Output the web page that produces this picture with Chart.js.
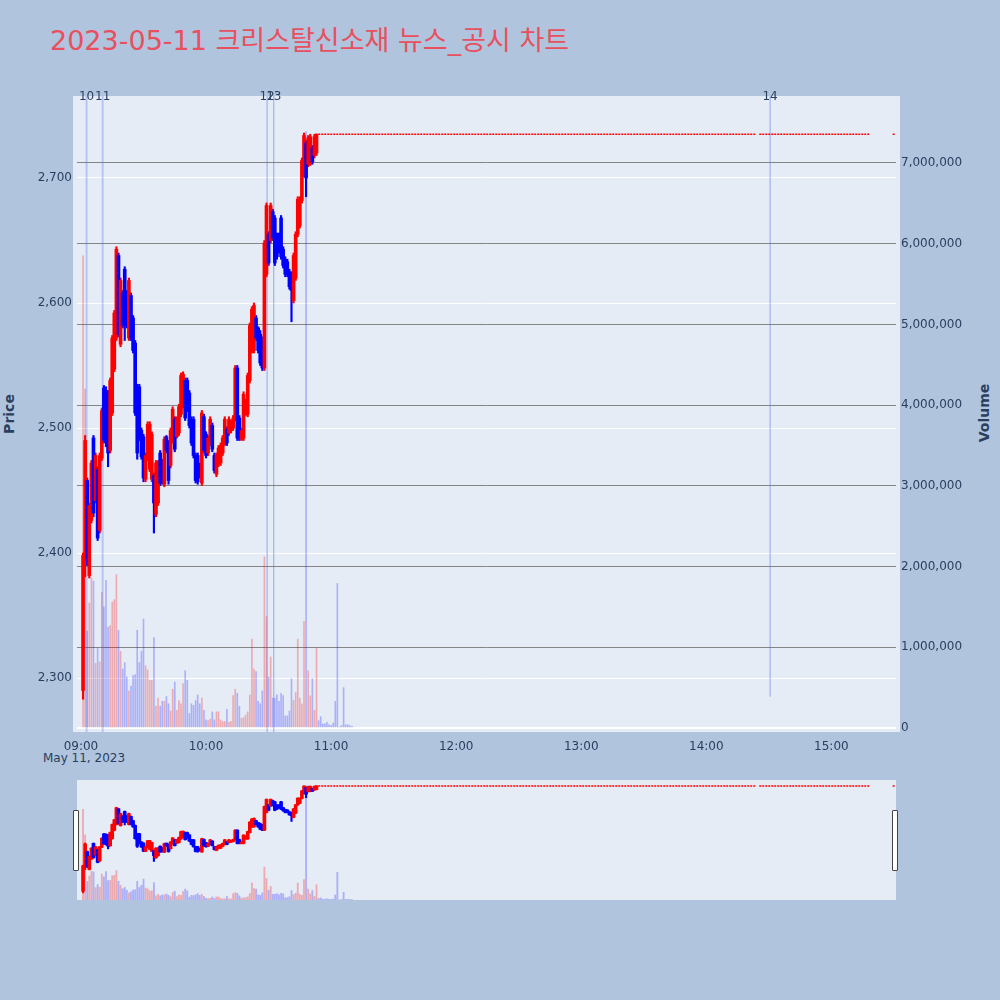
<!DOCTYPE html>
<html>
<head>
<meta charset="utf-8">
<script src="https://cdn.jsdelivr.net/npm/chart.js@4.4.0/dist/chart.umd.min.js"></script>
<style>
    body { margin: 0; width: 1000px; height: 1000px; background: #b0c4de; position: relative; overflow: hidden;
           font-family: 'DejaVu Sans', 'Noto Sans CJK KR', sans-serif; color: #2a3f5f; }
    canvas { position: absolute; left: 0; }
    #main { top: 0; }
    #slider { top: 780px; }
    #title { position: absolute; left: 50px; top: 19px; font-size: 27px; color: #e8505f; white-space: nowrap; }
    .axisTitle { position: absolute; font-size: 14px; font-weight: bold; white-space: nowrap; transform: translate(-50%, -50%) rotate(-90deg); }
    #dateLabel { position: absolute; left: 84px; top: 758px; font-size: 12px; transform: translate(-50%, -50%); white-space: nowrap; }
    .handle { position: absolute; top: 810px; width: 4px; height: 59px; background: #fff; border: 1px solid #444; border-radius: 1px; }
</style>
</head>
<body>
<div id="title">2023-05-11 크리스탈신소재 뉴스_공시 차트</div>
<div class="axisTitle" style="left:9px; top:414px;">Price</div>
<div class="axisTitle" style="left:984px; top:413px;">Volume</div>
<div id="dateLabel">May 11, 2023</div>
<canvas id="main" width="1000" height="780"></canvas>
<canvas id="slider" width="1000" height="120"></canvas>
<div class="handle" style="left:73px;"></div>
<div class="handle" style="left:892px;"></div>
<script>
// one-minute bars, the first one at 09:01
const firstBarTime = '09:01';
const opens = [
    2290, 2395, 2458, 2382, 2426, 2492, 2442, 2467, 2418, 2476,
    2532, 2530, 2528, 2482, 2512, 2547, 2572, 2638, 2567, 2608,
    2627, 2608, 2572, 2606, 2588, 2568, 2533, 2533, 2498, 2493,
    2459, 2476, 2467, 2459, 2462, 2431, 2440, 2480, 2470, 2455,
    2493, 2488, 2470, 2490, 2507, 2493, 2496, 2511, 2518, 2538,
    2538, 2528, 2507, 2507, 2478, 2478, 2470, 2456, 2509, 2495,
    2480, 2488, 2502, 2478, 2463, 2471, 2472, 2480, 2488, 2499,
    2496, 2498, 2500, 2508, 2548, 2508, 2491, 2492, 2511, 2511,
    2538, 2562, 2562, 2588, 2580, 2575, 2571, 2548, 2623, 2655,
    2650, 2673, 2668, 2654, 2654, 2668, 2643, 2635, 2633, 2625,
    2623, 2602, 2620, 2655, 2662, 2682, 2703, 2728, 2711, 2712,
    2724, 2718, 2720
];
const highs = [
    2400, 2494, 2460, 2440, 2474, 2494, 2480, 2469, 2480, 2516,
    2534, 2533, 2530, 2540, 2574, 2594, 2645, 2640, 2620, 2610,
    2629, 2610, 2620, 2608, 2590, 2570, 2535, 2535, 2500, 2495,
    2480, 2505, 2505, 2497, 2464, 2474, 2474, 2482, 2475, 2493,
    2494, 2490, 2500, 2517, 2509, 2509, 2519, 2544, 2545, 2540,
    2540, 2530, 2509, 2509, 2480, 2480, 2472, 2514, 2511, 2497,
    2494, 2509, 2504, 2480, 2480, 2486, 2488, 2494, 2509, 2501,
    2509, 2506, 2510, 2550, 2550, 2510, 2500, 2529, 2523, 2544,
    2584, 2597, 2600, 2590, 2581, 2578, 2573, 2650, 2680, 2657,
    2680, 2675, 2670, 2656, 2656, 2670, 2645, 2637, 2635, 2627,
    2625, 2640, 2657, 2685, 2685, 2716, 2736, 2730, 2734, 2735,
    2726, 2735, 2735
];
const lows = [
    2283, 2381, 2390, 2380, 2424, 2429, 2440, 2410, 2416, 2474,
    2488, 2485, 2469, 2480, 2510, 2545, 2570, 2573, 2565, 2580,
    2570, 2580, 2570, 2570, 2560, 2510, 2475, 2490, 2475, 2457,
    2457, 2474, 2465, 2457, 2416, 2429, 2438, 2454, 2455, 2453,
    2480, 2455, 2468, 2488, 2481, 2492, 2494, 2509, 2516, 2506,
    2513, 2500, 2486, 2476, 2456, 2455, 2460, 2454, 2480, 2476,
    2478, 2486, 2481, 2464, 2461, 2469, 2470, 2478, 2486, 2486,
    2494, 2496, 2498, 2506, 2490, 2490, 2490, 2490, 2510, 2509,
    2536, 2560, 2560, 2570, 2560, 2550, 2546, 2546, 2621, 2630,
    2648, 2650, 2630, 2635, 2640, 2635, 2628, 2621, 2621, 2611,
    2585, 2600, 2618, 2653, 2660, 2680, 2701, 2685, 2709, 2710,
    2711, 2716, 2718
];
const closes = [
    2398, 2490, 2395, 2438, 2472, 2432, 2478, 2412, 2478, 2514,
    2490, 2500, 2480, 2538, 2572, 2592, 2643, 2575, 2618, 2582,
    2590, 2582, 2618, 2572, 2562, 2512, 2480, 2492, 2477, 2460,
    2478, 2503, 2503, 2495, 2440, 2472, 2472, 2456, 2458, 2491,
    2482, 2458, 2498, 2515, 2483, 2507, 2517, 2542, 2543, 2508,
    2515, 2502, 2488, 2478, 2458, 2457, 2462, 2512, 2482, 2478,
    2492, 2507, 2483, 2466, 2478, 2484, 2486, 2492, 2507, 2488,
    2507, 2504, 2508, 2548, 2492, 2492, 2498, 2527, 2521, 2542,
    2582, 2595, 2598, 2572, 2562, 2552, 2548, 2648, 2678, 2632,
    2678, 2652, 2632, 2637, 2642, 2637, 2630, 2623, 2623, 2613,
    2610, 2638, 2655, 2683, 2683, 2714, 2734, 2700, 2732, 2733,
    2713, 2733, 2735
];
const volumes = [
    5850000, 4200000, 1200000, 1550000, 1860000, 1820000, 800000, 990000, 820000, 1680000,
    1500000, 1830000, 1250000, 1270000, 1560000, 1590000, 1900000, 1210000, 950000, 730000,
    810000, 630000, 460000, 520000, 650000, 660000, 1210000, 810000, 950000, 1350000,
    770000, 720000, 590000, 590000, 1120000, 270000, 370000, 270000, 330000, 330000,
    390000, 300000, 210000, 480000, 570000, 220000, 340000, 300000, 550000, 710000,
    590000, 180000, 300000, 280000, 340000, 410000, 300000, 370000, 220000, 100000,
    90000, 110000, 200000, 100000, 200000, 200000, 100000, 80000, 80000, 230000,
    70000, 80000, 400000, 480000, 430000, 270000, 120000, 130000, 160000, 200000,
    410000, 1100000, 730000, 700000, 330000, 300000, 460000, 2120000, 1380000, 630000,
    880000, 370000, 370000, 410000, 330000, 430000, 400000, 150000, 150000, 210000,
    610000, 340000, 440000, 1100000, 370000, 300000, 1320000, 7390000, 710000, 400000,
    610000, 220000, 990000, 90000, 140000, 50000, 50000, 70000, 40000, 30000,
    60000, 330000, 1790000, 10000, 30000, 500000, 40000, 40000, 30000, 20000
];

// price held at the upper limit for the rest of the day
const limitPrice = 2735;
const limitRuns = [['10:53', '14:23'], ['14:26', '15:18'], ['15:30', '15:30']];

const newsLabels = ['10', '11', '12', '13', '14'];
const newsTimes = ['09:02:42', '09:10:24', '10:29:18', '10:32:30', '14:30:36'];
const newsFrom = [2256.8, 2256.8, 2256.8, 2256.8, 2285];

const xTickTimes = ['09:00', '10:00', '11:00', '12:00', '13:00', '14:00', '15:00'];
const priceTicks = [2300, 2400, 2500, 2600, 2700];
const volumeTicks = [0, 1000000, 2000000, 3000000, 4000000, 5000000, 6000000, 7000000];

const upColor = '#ff0000';
const downColor = '#0000ff';
const tickFont = { family: 'DejaVu Sans', size: 12 };
const textColor = '#2a3f5f';

function toMin(t) {
    let p = t.split(':').map(Number);
    return (p[0] - 9) * 60 + p[1] + (p[2] || 0) / 60;
}

function fmtTime(m) {
    let t = 540 + m;
    let h = Math.floor(t / 60), mm = Math.round(t % 60);
    return String(h).padStart(2, '0') + ':' + String(mm).padStart(2, '0');
}

const start = toMin(firstBarTime);
const bodyData = opens.map((o, i) => ({ x: start + i, y: [o, closes[i]] }));
const wickData = opens.map((o, i) => ({ x: start + i, y: [lows[i], highs[i]] }));
const candleColors = opens.map((o, i) => closes[i] >= o ? upColor : downColor);
const volumeData = volumes.map((v, i) => ({ x: start + i, y: v }));
const volumeColors = volumes.map((v, i) =>
    (i < opens.length && closes[i] >= opens[i]) ? 'rgba(255,0,0,0.28)' : 'rgba(0,0,255,0.25)');

let limitData = [];
limitRuns.forEach(run => {
    limitData.push({ x: toMin(run[0]) - 0.6, y: limitPrice });
    limitData.push({ x: toMin(run[1]) + 0.6, y: limitPrice });
    limitData.push({ x: toMin(run[1]) + 0.8, y: null });
});

function candleSets(bodyWidth, wickWidth, volWidth) {
    return [
        { type: 'bar', data: bodyData, backgroundColor: candleColors, barThickness: bodyWidth,
          minBarLength: 1, grouped: false, yAxisID: 'y', order: 1 },
        { type: 'bar', data: wickData, backgroundColor: candleColors, barThickness: wickWidth,
          grouped: false, yAxisID: 'y', order: 2 },
        { type: 'line', data: limitData, borderColor: upColor, borderWidth: 1.5, borderDash: [2, 1],
          pointRadius: 0, spanGaps: false, yAxisID: 'y', order: 3 },
        { type: 'bar', data: volumeData, backgroundColor: volumeColors, barThickness: volWidth,
          grouped: false, yAxisID: 'y1', order: 6 }
    ];
}

const plotBg = {
    id: 'plotBg',
    beforeDraw(chart, args, opts) {
        let a = chart.chartArea, ctx = chart.ctx;
        ctx.save();
        ctx.fillStyle = '#e5ecf6';
        ctx.fillRect(a.left - opts.extra, a.top, a.width + opts.extra * 2, a.height);
        ctx.restore();
    }
};

const newsText = {
    id: 'newsText',
    afterDraw(chart) {
        let ctx = chart.ctx, xs = chart.scales.x;
        ctx.save();
        ctx.font = '12px DejaVu Sans';
        ctx.fillStyle = textColor;
        ctx.textAlign = 'center';
        ctx.textBaseline = 'middle';
        newsTimes.forEach((t, i) => {
            ctx.fillText(newsLabels[i], xs.getPixelForValue(toMin(t)), chart.chartArea.top + 1);
        });
        ctx.restore();
    }
};

let mainSets = candleSets(3, 1.5, 1);
newsTimes.forEach((t, i) => {
    let light = i < 2;
    mainSets.push({
        type: 'line',
        data: [{ x: toMin(t), y: newsFrom[i] }, { x: toMin(t), y: 2765.6 }],
        borderColor: light ? 'rgba(70,110,240,0.3)' : 'rgba(60,100,240,0.5)',
        borderWidth: light ? 2 : 1,
        pointRadius: 0, yAxisID: 'y', order: 4
    });
});

new Chart(document.getElementById('main'), {
    data: { datasets: mainSets },
    options: {
        responsive: false,
        animation: false,
        devicePixelRatio: 1,
        layout: { padding: { top: 96, left: 0, right: 0, bottom: 0 } },
        plugins: { legend: { display: false }, tooltip: { enabled: false }, plotBg: { extra: 4 } },
        scales: {
            x: {
                type: 'linear', min: -1.9, max: 391, offset: false,
                grid: { display: false }, border: { display: false },
                ticks: { color: textColor, font: tickFont, padding: 0, maxRotation: 0, callback: v => fmtTime(v) },
                afterBuildTicks: s => { s.ticks = xTickTimes.map(t => ({ value: toMin(t) })); },
                afterFit: s => { s.height = 48; }
            },
            y: {
                position: 'left', min: 2256.8, max: 2765.6,
                grid: { color: '#ffffff', lineWidth: 1, drawTicks: false }, border: { display: false },
                ticks: { color: textColor, font: tickFont, padding: 5, callback: v => v.toLocaleString('en-US') },
                afterBuildTicks: s => { s.ticks = priceTicks.map(v => ({ value: v })); },
                afterFit: s => { s.width = 77; }
            },
            y1: {
                position: 'right', min: -50000, max: 7830000,
                grid: {
                    color: c => c.tick && c.tick.value === 0 ? '#ffffff' : '#858585',
                    lineWidth: c => c.tick && c.tick.value === 0 ? 2 : 1,
                    drawTicks: false
                },
                border: { display: false },
                ticks: { color: textColor, font: tickFont, padding: 5, callback: v => v.toLocaleString('en-US') },
                afterBuildTicks: s => { s.ticks = volumeTicks.map(v => ({ value: v })); },
                afterFit: s => { s.width = 104; }
            }
        }
    },
    plugins: [plotBg, newsText]
});

// range slider: the same series in a small overview
new Chart(document.getElementById('slider'), {
    data: { datasets: candleSets(3, 1.5, 1.2) },
    options: {
        responsive: false,
        animation: false,
        devicePixelRatio: 1,
        layout: { padding: { top: 0, left: 77, right: 104, bottom: 0 } },
        plugins: { legend: { display: false }, tooltip: { enabled: false }, plotBg: { extra: 0 } },
        scales: {
            x: { type: 'linear', min: -1.9, max: 391, offset: false, display: false },
            y: { min: 2253, max: 2760, display: false },
            y1: { position: 'right', min: 0, max: 7750000, display: false }
        }
    },
    plugins: [plotBg]
});
</script>
</body>
</html>
